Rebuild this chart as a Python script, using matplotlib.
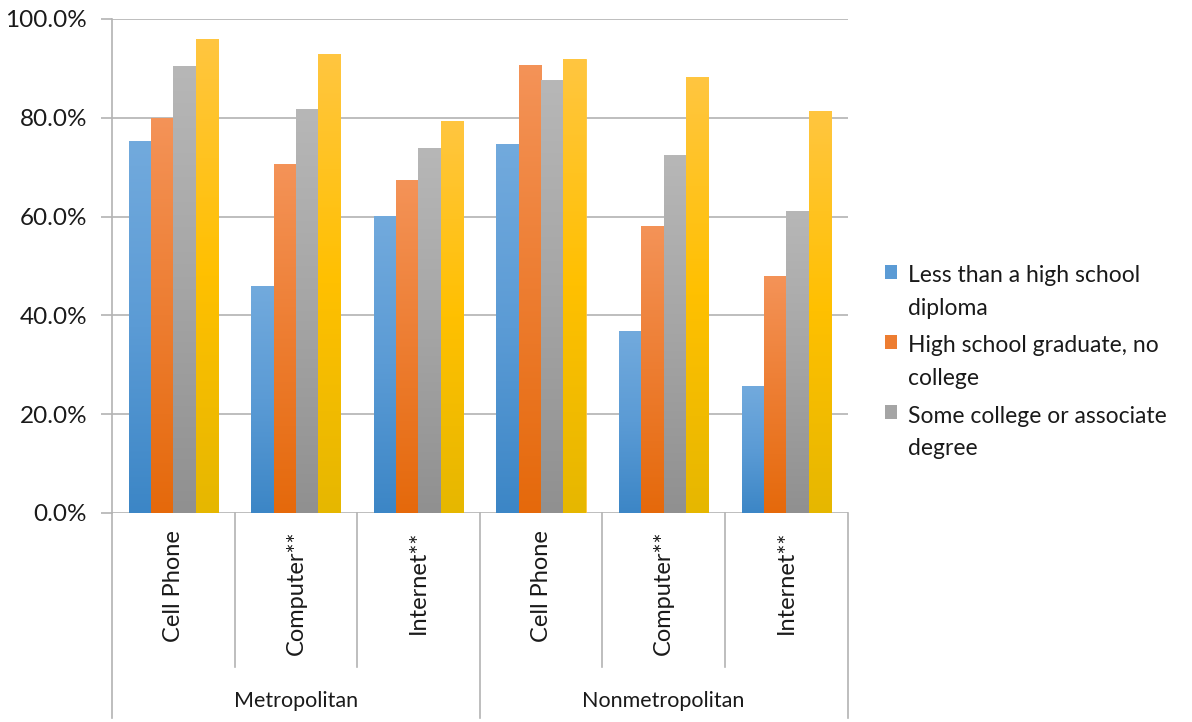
import matplotlib
matplotlib.use("Agg")
import matplotlib.pyplot as plt
import numpy as np
from matplotlib.colors import LinearSegmentedColormap
from matplotlib.patches import Patch, Rectangle
from matplotlib.legend_handler import HandlerPatch
from matplotlib.ticker import FuncFormatter

# data (percent)
categories = ["Cell Phone", "Computer**", "Internet**",
              "Cell Phone", "Computer**", "Internet**"]
groups = ["Metropolitan", "Nonmetropolitan"]
series_names = ["Less than a high school\ndiploma",
                "High school graduate, no\ncollege",
                "Some college or associate\ndegree",
                "Bachelor's degree or higher"]
less_than_hs = [75.2, 45.9, 60.1, 74.7, 36.8, 25.7]
hs_grad = [80.0, 70.6, 67.4, 90.7, 58.1, 47.9]
some_college = [90.5, 81.7, 73.9, 87.6, 72.4, 61.2]
bachelor = [95.9, 92.9, 79.3, 91.8, 88.2, 81.4]
values = [less_than_hs, hs_grad, some_college, bachelor]
yticks = [0, 20, 40, 60, 80, 100]

# (top, base, bottom) colours for the excel style gradient
shades = [("#72AADD", "#5B9BD5", "#3C86C6"),
          ("#F49358", "#ED7D31", "#E5690B"),
          ("#B7B7B7", "#A5A5A5", "#909090"),
          ("#FFC640", "#FFC000", "#E6B700")]

plt.rcParams['font.family'] = ['Lato', 'DejaVu Sans']
txt = "#1a1a1a"
grid_c = "#B3B3B3"
leg_size = 16.5
leg_lsp = 1.68

fig = plt.figure(figsize=(11.92, 7.22), dpi=100)
ax = fig.add_axes([0.094, 0.2895, 0.617, 0.6842])

n = len(categories)
x = np.arange(n)
w = 1.0 / 5.5
grad = np.linspace(0, 1, 256).reshape(-1, 1)

for i, vals in enumerate(values):
    top, base, bottom = shades[i]
    cmap = LinearSegmentedColormap.from_list("s%d" % i, [bottom, base, top])
    offs = (i - 1.5) * w
    bars = ax.bar(x + offs, vals, w, color=base, edgecolor=top,
                  linewidth=0.6, zorder=2)
    for b in bars:
        x0 = b.get_x()
        im = ax.imshow(grad, extent=[x0, x0 + b.get_width(), 0, b.get_height()],
                       origin='lower', aspect='auto', cmap=cmap, zorder=2.5)
        im.set_clip_path(b)

ax.set_xlim(-0.5, n - 0.5)
ax.set_ylim(0, 100)
ax.set_yticks(yticks)
ax.yaxis.set_major_formatter(FuncFormatter(lambda v, p: "%.1f%%" % v))
ax.tick_params(axis='y', length=8, width=1.2, color=grid_c, labelsize=17.5,
               labelcolor=txt, pad=10)
ax.set_xticks([])
ax.grid(axis='y', color=grid_c, linewidth=1.2, zorder=0)
ax.set_axisbelow(True)
for s in ['top', 'right', 'bottom']:
    ax.spines[s].set_visible(False)
ax.spines['left'].set_color(grid_c)
ax.spines['left'].set_linewidth(1.2)

# category separators and labels below the axis
trans = ax.get_xaxis_transform()
for k in range(n + 1):
    xb = k - 0.5
    low = -0.415 if k % 3 == 0 else -0.312
    ax.plot([xb, xb], [0, low], color=grid_c, lw=1.2, transform=trans,
            clip_on=False)
for k, lab in enumerate(categories):
    ax.text(k, -0.035, lab, rotation=90, ha='center', va='top',
            fontsize=17, color=txt, transform=trans)
for g, name in enumerate(groups):
    ax.text(g * 3 + 1, -0.38, name, ha='center', va='center',
            fontsize=15.5, color=txt, transform=trans)


# excel puts the legend square next to the first line of a wrapped label
def first_line_square(legend, orig_handle, xdescent, ydescent, width, height, fontsize):
    shift = 0.5 * fontsize * leg_lsp * 1.08
    return Rectangle((-xdescent, -ydescent + shift), width, height)


# legend shows only the first three series, like the reference
handles = [Patch(facecolor=shades[i][1], edgecolor='none') for i in range(3)]
leg = fig.legend(handles, series_names[:3], loc='upper left',
                 bbox_to_anchor=(0.725, 0.661), frameon=False, fontsize=leg_size,
                 handlelength=0.55, handleheight=0.55, handletextpad=0.45,
                 labelspacing=0.72, labelcolor=txt,
                 handler_map={Patch: HandlerPatch(patch_func=first_line_square)})
for t in leg.get_texts():
    t.set_linespacing(leg_lsp)

fig.savefig("out.png", dpi=100)
